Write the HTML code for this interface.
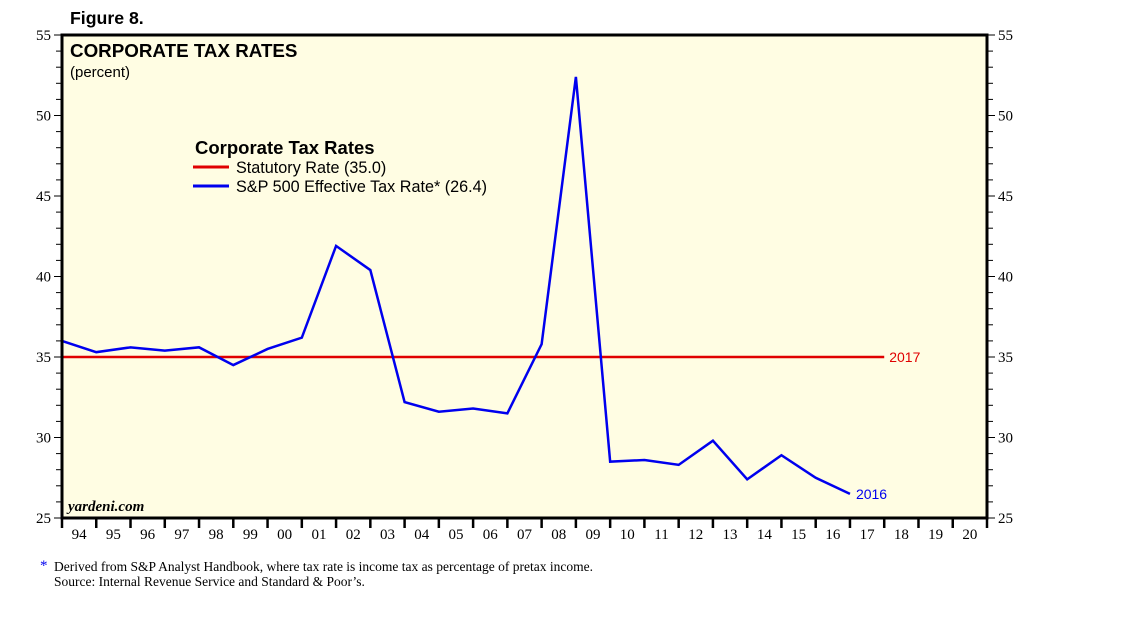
<!DOCTYPE html>
<html><head><meta charset="utf-8"><style>
body{margin:0;background:#fff;width:1138px;height:621px;overflow:hidden;font-family:"Liberation Sans",sans-serif}
</style></head><body>
<svg id="chart" width="1138" height="621" xmlns="http://www.w3.org/2000/svg"></svg>
<script>
const years=[1993,1994,1995,1996,1997,1998,1999,2000,2001,2002,2003,2004,2005,2006,2007,2008,2009,2010,2011,2012,2013,2014,2015,2016];
const effective=[36.0,35.3,35.6,35.4,35.6,34.5,35.5,36.2,41.9,40.4,32.2,31.6,31.8,31.5,35.8,52.4,28.5,28.6,28.3,29.8,27.4,28.9,27.5,26.5];
const statYears=[1993,2017];
const statutory=[35.0,35.0];
const yTicks=[25,30,35,40,45,50,55];
const xLabels=["94","95","96","97","98","99","00","01","02","03","04","05","06","07","08","09","10","11","12","13","14","15","16","17","18","19","20"];

const NS="http://www.w3.org/2000/svg",svg=document.getElementById('chart');
const L=62,R=987,T=35,B=518,yw=(R-L)/27;
const x=yr=>L+(yr-1993)*yw;
const y=v=>B-(v-25)/30*(B-T);
function mk(tag,at,txt){const e=document.createElementNS(NS,tag);for(const k in at)e.setAttribute(k,at[k]);if(txt!=null)e.textContent=txt;svg.appendChild(e);return e;}

let e;
e=mk('text',{x:70,y:24,'font-size':17.7,'font-weight':'bold'},'Figure 8.');


e=mk('rect',{x:L,y:T,width:R-L,height:B-T,fill:'#fffde3'});


e=mk('text',{x:70,y:57,'font-size':18.8,'font-weight':'bold'},'CORPORATE TAX RATES');


e=mk('text',{x:70,y:77,'font-size':15},'(percent)');



for(let v=25;v<=55;v++){
  const len=(v%5===0)?8:6;
  mk('line',{x1:L-len,x2:L,y1:y(v),y2:y(v),stroke:'#000','stroke-width':1});
  mk('line',{x1:R,x2:R+len,y1:y(v),y2:y(v),stroke:'#000','stroke-width':1});
}
yTicks.forEach(v=>{
  e=mk('text',{x:L-11,y:y(v)+5,'font-size':15,'text-anchor':'end','font-family':'Liberation Serif'},v);
  
  
  e=mk('text',{x:R+11,y:y(v)+5,'font-size':15,'font-family':'Liberation Serif'},v);
  
  
});
for(let i=0;i<=27;i++){mk('line',{x1:L+i*yw,x2:L+i*yw,y1:B,y2:B+10,stroke:'#000','stroke-width':2.5});}
xLabels.forEach((t,i)=>{
  e=mk('text',{x:L+(i+0.5)*yw,y:B+21,'font-size':15,'text-anchor':'middle','font-family':'Liberation Serif'},t);
  
  
});

e=mk('polyline',{points:statYears.map((yr,i)=>x(yr)+','+y(statutory[i])).join(' '),fill:'none',stroke:'#e00000','stroke-width':2.5});


e=mk('text',{x:x(statYears[1])+5,y:y(statutory[1])+5,'font-size':14,fill:'#e00000'},'2017');


e=mk('polyline',{points:years.map((yr,i)=>x(yr)+','+y(effective[i])).join(' '),fill:'none',stroke:'#0000ee','stroke-width':2.5});


const li=years.length-1;
e=mk('text',{x:x(years[li])+6,y:y(effective[li])+5,'font-size':14,fill:'#0000ee'},'2016');



e=mk('text',{x:195,y:154,'font-size':18.5,'font-weight':'bold'},'Corporate Tax Rates');


mk('line',{x1:193,x2:229,y1:167,y2:167,stroke:'#e00000','stroke-width':3});
e=mk('text',{x:236,y:173,'font-size':16.2},'Statutory Rate (35.0)');


mk('line',{x1:193,x2:229,y1:186,y2:186,stroke:'#0000ee','stroke-width':3});
e=mk('text',{x:236,y:192,'font-size':16.2},'S&P 500 Effective Tax Rate* (26.4)');



e=mk('text',{x:68,y:511,'font-size':15,'font-style':'italic','font-weight':'bold','font-family':'Liberation Serif'},'yardeni.com');



mk('rect',{x:L,y:T,width:R-L,height:B-T,fill:'none',stroke:'#000','stroke-width':3});

e=mk('text',{x:40,y:570,'font-size':15,fill:'#0000ee','font-family':'Liberation Serif'},'*');


e=mk('text',{x:54,y:571,'font-size':13.5,'font-family':'Liberation Serif'},'Derived from S&P Analyst Handbook, where tax rate is income tax as percentage of pretax income.');


e=mk('text',{x:54,y:586,'font-size':13.5,'font-family':'Liberation Serif'},'Source: Internal Revenue Service and Standard & Poor’s.');


</script>
</body></html>
